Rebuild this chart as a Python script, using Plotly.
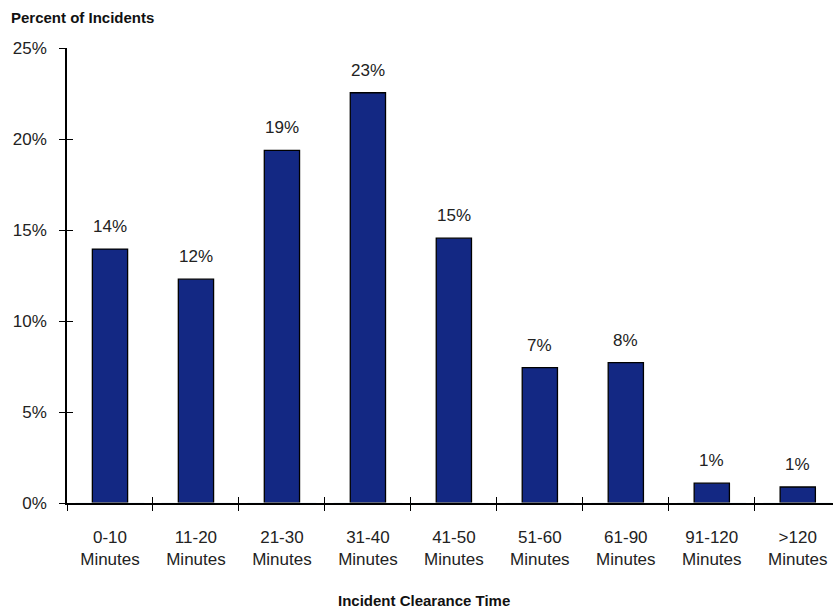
import plotly.graph_objects as go

categories = ["0-10<br>Minutes", "11-20<br>Minutes", "21-30<br>Minutes", "31-40<br>Minutes",
              "41-50<br>Minutes", "51-60<br>Minutes", "61-90<br>Minutes", "91-120<br>Minutes",
              ">120<br>Minutes"]
percent = [13.95, 12.3, 19.37, 22.54, 14.55, 7.44, 7.71, 1.09, 0.88]
y_ticks = [0, 5, 10, 15, 20, 25]
y_tick_text = ["0%", "5%", "10%", "15%", "20%", "25%"]

FONT = "Liberation Sans, Arial, sans-serif"
TXT = "#222222"
L, T, B, W, H = 67, 48, 108, 833, 611
PW, PH = W - L, H - T - B

fig = go.Figure()
fig.add_trace(go.Bar(
    x=categories, y=percent,
    marker=dict(color="#132883", line=dict(color="black", width=1.3)),
    width=0.41, hoverinfo="skip",
))
# invisible trace for overlay axes (inside ticks)
fig.add_trace(go.Bar(x=categories, y=[0]*len(categories), xaxis="x2", yaxis="y2",
                     showlegend=False, hoverinfo="skip", marker=dict(color="rgba(0,0,0,0)")))

annotations = [
    dict(x=c, y=v, xref="x", yref="y", text=f"{v:.0f}%", showarrow=False,
         yanchor="bottom", xanchor="center", yshift=11,
         font=dict(family=FONT, size=17, color=TXT))
    for c, v in zip(categories, percent)
]
annotations += [
    dict(text="<b>Percent of Incidents</b>", xref="paper", yref="paper",
         x=-(L - 9) / PW, y=1 + 31 / PH, xanchor="left", yanchor="middle",
         showarrow=False, font=dict(family=FONT, size=15, color="#111111")),
    dict(text="<b>Incident Clearance Time</b>", xref="paper", yref="paper",
         x=(424 - L) / PW, y=-(600 - (H - B)) / PH, xanchor="center", yanchor="middle",
         showarrow=False, font=dict(family=FONT, size=15, color="#111111")),
]

fig.update_layout(
    width=W, height=H,
    margin=dict(l=L, r=0, t=T, b=B),
    plot_bgcolor="white", paper_bgcolor="white",
    showlegend=False,
    font=dict(family=FONT, size=17, color=TXT),
    xaxis=dict(
        type="category", range=[-0.5, 8.41],
        showline=True, linecolor="black", linewidth=1.5,
        ticks="outside", ticklen=6, tickwidth=1.3, tickcolor="black",
        tickson="boundaries", showgrid=False, zeroline=False,
        tickfont=dict(family=FONT, size=17, color=TXT),
        ticklabelstandoff=18,
    ),
    yaxis=dict(
        range=[0, 25], tickvals=y_ticks, ticktext=y_tick_text,
        showline=True, linecolor="black", linewidth=1.5,
        ticks="outside", ticklen=6, tickwidth=1.3, tickcolor="black",
        showgrid=False, zeroline=False,
        tickfont=dict(family=FONT, size=17, color=TXT),
        ticklabelstandoff=9,
    ),
    xaxis2=dict(
        type="category", range=[-0.5, 8.41], overlaying="x",
        ticks="inside", ticklen=6, tickwidth=1.3, tickcolor="black",
        tickson="boundaries", showticklabels=False, showgrid=False,
        zeroline=False, showline=False,
    ),
    yaxis2=dict(
        range=[0, 25], tickvals=y_ticks, overlaying="y",
        ticks="inside", ticklen=6, tickwidth=1.3, tickcolor="black",
        showticklabels=False, showgrid=False, zeroline=False, showline=False,
    ),
    annotations=annotations,
)

fig.write_html("out.html")
